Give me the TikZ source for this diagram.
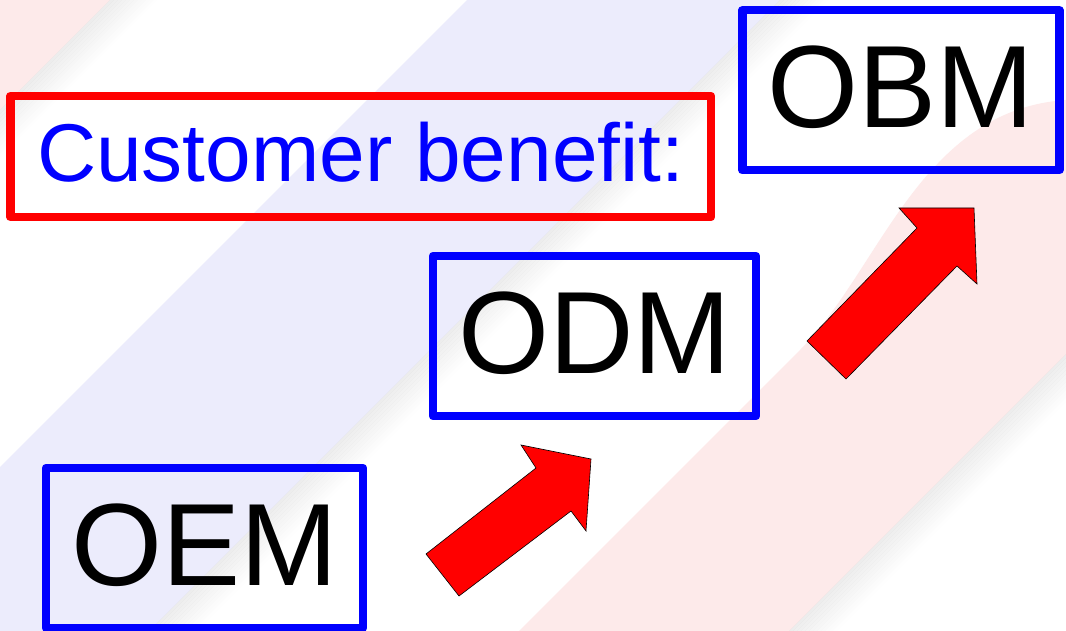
\documentclass[tikz,border=0pt]{standalone}
\usepackage{fontspec}
\setmainfont{Liberation Sans}
\definecolor{ribbonpink}{RGB}{253,234,234}
\definecolor{ribbonlav}{RGB}{236,236,252}
\definecolor{boxblue}{RGB}{0,0,255}
\definecolor{boxred}{RGB}{255,0,0}
\begin{document}
\begin{tikzpicture}[x=1pt,y=-1pt,
  frame/.style={rectangle, draw, line width=8.5pt, line join=round, inner sep=0pt},
  stage/.style={frame, draw=boxblue, text=black, minimum width=317pt, minimum height=160pt,
    font=\fontsize{117}{128}\selectfont, text height=84pt, text depth=10pt},
  headline/.style={frame, draw=boxred, text=boxblue, minimum width=700.5pt, minimum height=121pt,
    font=\fontsize{82}{96}\selectfont, text height=59pt, text depth=8pt},
  blockarrow/.style={fill=boxred, draw=black, line width=0.6pt, line join=miter}]
\useasboundingbox (0,0) rectangle (1066,631);

% background ribbons
\begin{scope}
  \clip (0,0) rectangle (1066,631);
  \fill[white] (0,0) rectangle (1066,631);
  \fill[ribbonpink] (0,0) -- (110,0) -- (0,110) -- cycle;
  \fill[ribbonlav] (467,0) -- (780,0) -- (80,700) -- (-233,700) -- cycle;
  \fill[ribbonpink] (450,700) -- (800,350) .. controls (880,270) and (920,110) .. (1066,100)
    -- (1100,100) -- (1100,320) -- (720,700) -- cycle;
  % soft shadow along the lower edge of each ribbon
  \foreach \a in {110,780,1420}{
    \foreach \i [evaluate=\i as \op using {0.07*(1-\i/12)}] in {0,...,11}{
      \fill[black, fill opacity=\op] (\a+4*\i,0) -- (\a+4*\i+4,0) -- (\a+4*\i+4-700,700) -- (\a+4*\i-700,700) -- cycle;
    }
  }
\end{scope}

% boxes
\node[headline] (benefit) at (360.75,156.5) {Customer benefit:};
\node[stage] (oem) at (204.5,548) {OEM};
\node[stage, minimum width=323pt] (odm) at (594.5,336) {ODM};
\node[stage] (obm) at (900.75,90.25) {OBM};

% block arrow from OEM towards ODM
\coordinate (a1t1) at (426,554);
\coordinate (a1n1) at (536,468);
\coordinate (a1b1) at (521,445);
\coordinate (a1tip) at (591,459);
\coordinate (a1b2) at (586,531);
\coordinate (a1n2) at (571,511);
\coordinate (a1t2) at (459,596);
\draw[blockarrow] (a1t1) -- (a1n1) -- (a1b1) -- (a1tip) -- (a1b2) -- (a1n2) -- (a1t2) -- cycle;

% block arrow from ODM towards OBM
\coordinate (a2t1) at (807,341);
\coordinate (a2n1) at (917,228);
\coordinate (a2b1) at (899,208);
\coordinate (a2tip) at (974,208);
\coordinate (a2b2) at (977,284);
\coordinate (a2n2) at (957,266);
\coordinate (a2t2) at (846,379);
\draw[blockarrow] (a2t1) -- (a2n1) -- (a2b1) -- (a2tip) -- (a2b2) -- (a2n2) -- (a2t2) -- cycle;
\end{tikzpicture}
\end{document}
